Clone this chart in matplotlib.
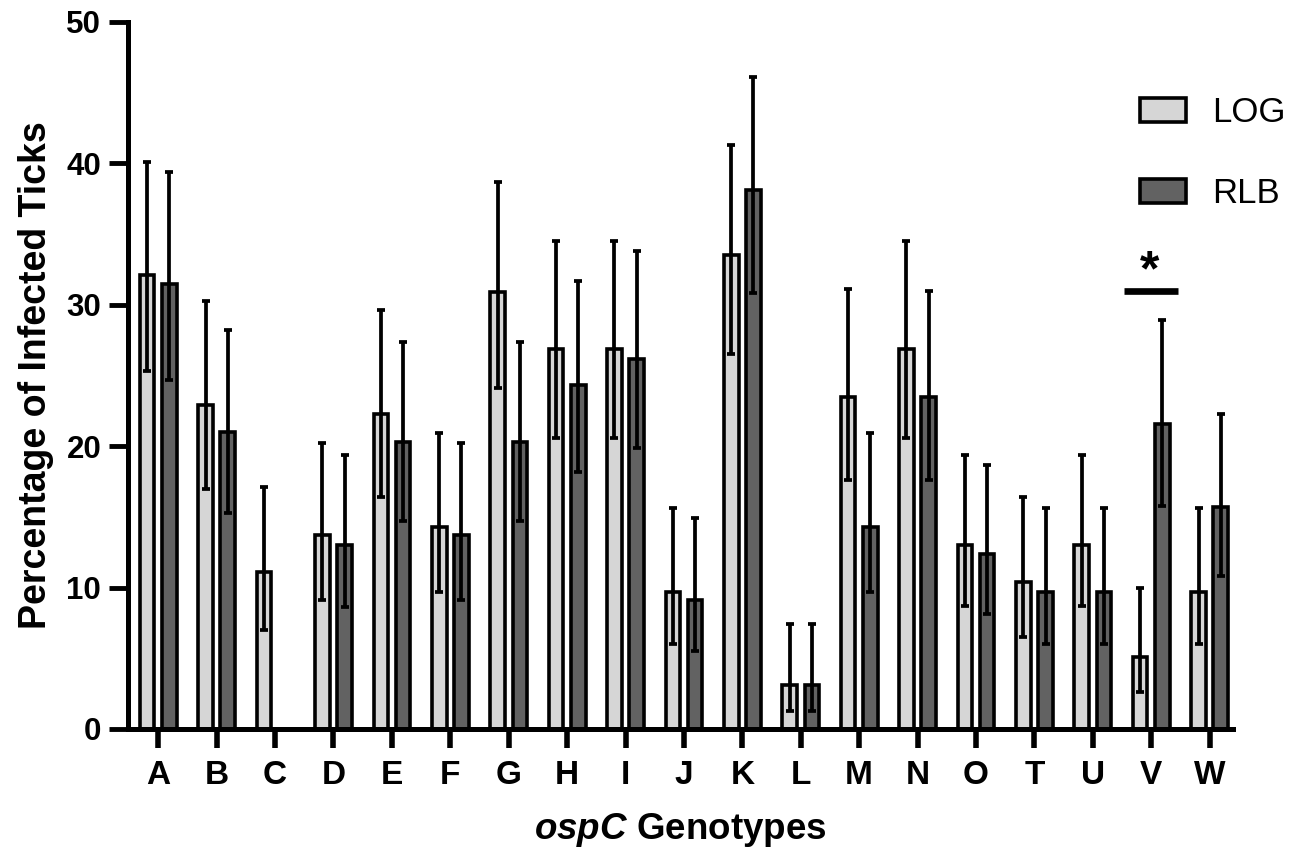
import numpy as np
import matplotlib
matplotlib.use('Agg')
import matplotlib.pyplot as plt

# infection prevalence per ospC genotype (mean, upper CI, lower CI)
genotypes = ['A', 'B', 'C', 'D', 'E', 'F', 'G', 'H', 'I', 'J', 'K', 'L', 'M', 'N', 'O', 'T', 'U', 'V', 'W']

log_mean = [32.1, 22.9, 11.1, 13.7, 22.3, 14.3, 30.9, 26.9, 26.9, 9.7, 33.5, 3.1, 23.5, 26.9, 13.0, 10.4, 13.0, 5.1, 9.7]
log_hi = [40.1, 30.3, 17.1, 20.2, 29.6, 20.9, 38.7, 34.5, 34.5, 15.6, 41.3, 7.4, 31.1, 34.5, 19.4, 16.4, 19.4, 10.0, 15.6]
log_lo = [25.3, 17.0, 7.0, 9.1, 16.4, 9.7, 24.1, 20.6, 20.6, 6.0, 26.5, 1.3, 17.6, 20.6, 8.7, 6.5, 8.7, 2.6, 6.0]

rlb_mean = [31.5, 21.0, 0.0, 13.0, 20.3, 13.7, 20.3, 24.3, 26.2, 9.1, 38.1, 3.1, 14.3, 23.5, 12.4, 9.7, 9.7, 21.6, 15.7]
rlb_hi = [39.4, 28.2, np.nan, 19.4, 27.4, 20.2, 27.4, 31.7, 33.8, 14.9, 46.1, 7.4, 20.9, 31.0, 18.7, 15.6, 15.6, 28.9, 22.3]
rlb_lo = [24.7, 15.3, np.nan, 8.6, 14.7, 9.1, 14.7, 18.2, 19.9, 5.5, 30.8, 1.3, 9.7, 17.6, 8.1, 6.0, 6.0, 15.8, 10.8]

series_names = ['LOG', 'RLB']
series_colors = ['#d6d6d6', '#626262']

# significance marker between LOG and RLB for genotype V
sig_genotype = 'V'
sig_height = 31.0

plt.rcParams['font.family'] = ['Liberation Sans', 'DejaVu Sans']
plt.rcParams['mathtext.fontset'] = 'custom'
plt.rcParams['mathtext.it'] = 'Liberation Sans:bold:italic'
plt.rcParams['mathtext.rm'] = 'Liberation Sans:bold'

fig = plt.figure(figsize=(13.06, 8.56), dpi=100)
ax = fig.add_axes([0.0982, 0.1484, 0.8459, 0.8259])

x = np.arange(len(genotypes))
offset = 0.19
width = 0.25

for k, (mean, hi, lo) in enumerate([(log_mean, log_hi, log_lo), (rlb_mean, rlb_hi, rlb_lo)]):
    mean = np.array(mean)
    hi = np.array(hi)
    lo = np.array(lo)
    pos = x + (2 * k - 1) * offset
    ax.bar(pos, mean, width, color=series_colors[k], edgecolor='black', linewidth=2.6,
           label=series_names[k], zorder=2)
    ok = ~np.isnan(hi)
    ax.errorbar(pos[ok], mean[ok], yerr=[mean[ok] - lo[ok], hi[ok] - mean[ok]], fmt='none',
                ecolor='black', elinewidth=2.7, capsize=3.0, capthick=2.7, zorder=3)

# the * bracket
iv = genotypes.index(sig_genotype)
ax.plot([iv - 0.46, iv + 0.45], [sig_height, sig_height], color='black', lw=4.8,
        solid_capstyle='butt', zorder=4)
ax.text(iv - 0.02, sig_height + 0.35, '*', fontsize=36, fontweight='bold', ha='center', va='baseline')

ax.set_xlim(-0.514, 18.40)
ax.set_ylim(0, 50)
ax.set_yticks(np.arange(0, 51, 10))
ax.set_xticks(x)
ax.set_xticklabels(genotypes)

for s in ['top', 'right']:
    ax.spines[s].set_visible(False)
for s in ['left', 'bottom']:
    ax.spines[s].set_linewidth(3.6)
    ax.spines[s].set_capstyle('projecting')

ax.tick_params(axis='y', length=13.5, width=3.5, pad=6, labelsize=22.5)
ax.tick_params(axis='x', length=13.5, width=4.0, pad=9, labelsize=24)
for lab in ax.get_xticklabels() + ax.get_yticklabels():
    lab.set_fontweight('bold')

ax.set_ylabel('Percentage of Infected Ticks', fontsize=27, fontweight='bold', labelpad=9)
ax.set_xlabel(r'$\it{ospC}$ Genotypes', fontsize=26.5, fontweight='bold', labelpad=14)

leg = fig.legend(loc='upper left', bbox_to_anchor=(1140 / 1306, 1 - 96 / 856), frameon=False,
                 fontsize=25, handlelength=1.32, handleheight=0.7, handletextpad=0.75,
                 labelspacing=1.38, borderpad=0, borderaxespad=0)
for p in leg.get_patches():
    p.set_linewidth(2.6)

fig.savefig('out.png', dpi=100)
